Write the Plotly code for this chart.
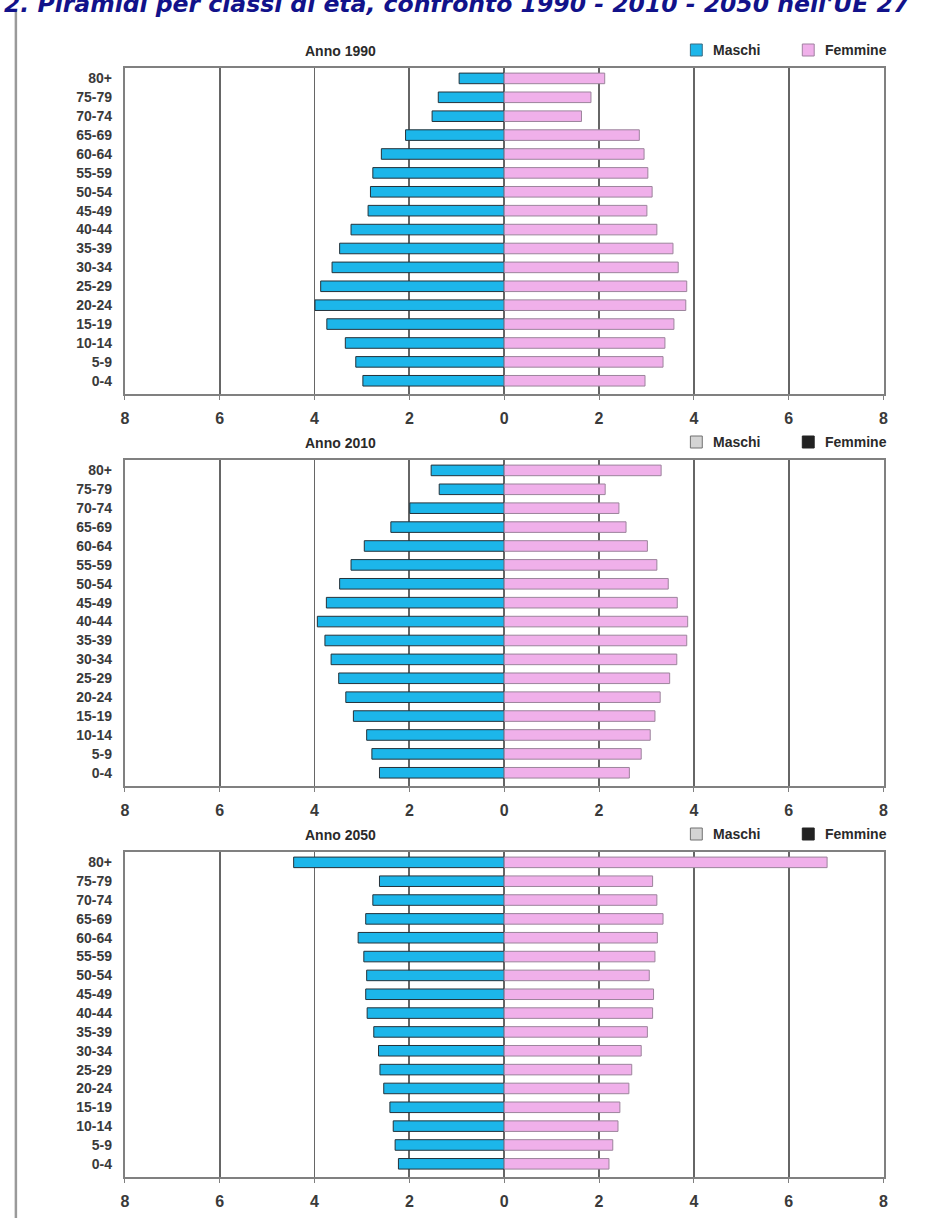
import plotly.graph_objects as go

W, H = 943, 1218

age_groups = ["0-4", "5-9", "10-14", "15-19", "20-24", "25-29", "30-34", "35-39",
              "40-44", "45-49", "50-54", "55-59", "60-64", "65-69", "70-74", "75-79", "80+"]

# values listed from 0-4 up to 80+
maschi_1990 = [2.98, 3.13, 3.35, 3.74, 3.99, 3.87, 3.63, 3.47, 3.23, 2.87, 2.82, 2.77, 2.59, 2.08, 1.52, 1.39, 0.95]
femmine_1990 = [2.97, 3.35, 3.39, 3.58, 3.83, 3.85, 3.67, 3.56, 3.22, 3.01, 3.12, 3.03, 2.95, 2.85, 1.63, 1.83, 2.12]

maschi_2010 = [2.63, 2.79, 2.90, 3.18, 3.34, 3.49, 3.65, 3.78, 3.94, 3.75, 3.47, 3.23, 2.95, 2.39, 1.99, 1.37, 1.54]
femmine_2010 = [2.64, 2.89, 3.08, 3.18, 3.29, 3.49, 3.64, 3.85, 3.87, 3.65, 3.46, 3.22, 3.02, 2.57, 2.42, 2.13, 3.31]

maschi_2050 = [2.23, 2.30, 2.34, 2.41, 2.54, 2.62, 2.65, 2.75, 2.89, 2.92, 2.90, 2.96, 3.08, 2.92, 2.77, 2.63, 4.44]
femmine_2050 = [2.21, 2.29, 2.40, 2.44, 2.63, 2.69, 2.89, 3.02, 3.13, 3.15, 3.06, 3.18, 3.23, 3.35, 3.22, 3.13, 6.81]

panel_titles = ["Anno 1990", "Anno 2010", "Anno 2050"]
x_tick_vals = [-8, -6, -4, -2, 0, 2, 4, 6, 8]
x_tick_text = ["8", "6", "4", "2", "0", "2", "4", "6", "8"]
legend_labels = ["Maschi", "Femmine"]
main_title = "2. Piramidi per classi di età, confronto 1990 - 2010 - 2050 nell'UE 27"

panels = [(maschi_1990, femmine_1990), (maschi_2010, femmine_2010), (maschi_2050, femmine_2050)]

# pixel layout of plot areas (top, bottom)
plot_left, plot_right = 122, 888
panel_px = [(68, 394), (460, 786), (852, 1177)]

MALE = "#1cb6ea"
FEMALE = "#f0b0ea"
GRID = "#666666"
FRAME = "#808080"
LABEL = "#3a3a3a"
FONT = "Liberation Sans, Arial, sans-serif"

fig = go.Figure()
layout = dict(
    width=W, height=H,
    margin=dict(l=0, r=0, t=0, b=0),
    paper_bgcolor="white", plot_bgcolor="white",
    showlegend=False,
    barmode="relative",
    bargap=0.44,
)

shapes = []
annotations = []


def py(p):
    return 1 - p / H


def px(p):
    return p / W


for i, ((m, f), (top, bot)) in enumerate(zip(panels, panel_px)):
    suffix = "" if i == 0 else str(i + 1)
    xa, ya = "x" + suffix, "y" + suffix
    fig.add_trace(go.Bar(
        y=age_groups, x=[-v for v in m], orientation="h", name=legend_labels[0],
        marker=dict(color=MALE, line=dict(color="#24323a", width=1)),
        xaxis=xa, yaxis=ya, hoverinfo="skip"))
    fig.add_trace(go.Bar(
        y=age_groups, x=f, orientation="h", name=legend_labels[1],
        marker=dict(color=FEMALE, line=dict(color="#9c849c", width=1)),
        xaxis=xa, yaxis=ya, hoverinfo="skip"))

    layout["xaxis" + suffix] = dict(
        domain=[px(plot_left), px(plot_right)], anchor=ya,
        range=[-8, 8], tickvals=x_tick_vals, ticktext=x_tick_text,
        showgrid=True, gridcolor=GRID, gridwidth=1.8,
        zeroline=True, zerolinecolor=GRID, zerolinewidth=1.8,
        showline=True, linecolor=FRAME, linewidth=2, mirror=True,
        ticks="outside", ticklen=4, tickcolor=FRAME,
        ticklabelstandoff=5,
        tickfont=dict(family=FONT, size=16, color=LABEL, weight="bold"),
        fixedrange=True,
    )
    layout["yaxis" + suffix] = dict(
        domain=[py(bot), py(top)], anchor=xa,
        type="category", range=[-0.7, 16.55],
        showgrid=False, zeroline=False,
        showline=True, linecolor=FRAME, linewidth=2, mirror=True,
        ticks="", ticklabelstandoff=8,
        tickfont=dict(family=FONT, size=14, color=LABEL, weight="bold"),
        fixedrange=True,
    )

    # panel title
    annotations.append(dict(
        text="<b>" + panel_titles[i] + "</b>", xref="paper", yref="paper",
        x=px(340), y=py(top - 17), xanchor="center", yanchor="middle",
        showarrow=False, font=dict(family=FONT, size=14, color="#2a2a2a")))

    # legend
    ly = top - 18
    if i == 0:
        sq_colors = [(MALE, "#3a6a80"), (FEMALE, "#a080a0")]
    else:
        sq_colors = [("#d4d4d4", "#707070"), ("#222222", "#222222")]
    for (x0, tx, lab, (fc, lc)) in [(693, 714, legend_labels[0], sq_colors[0]),
                                    (806, 827, legend_labels[1], sq_colors[1])]:
        shapes.append(dict(type="rect", xref="paper", yref="paper",
                           x0=px(x0), x1=px(x0 + 12), y0=py(ly + 6), y1=py(ly - 6),
                           fillcolor=fc, line=dict(color=lc, width=1)))
        annotations.append(dict(
            text="<b>" + lab + "</b>", xref="paper", yref="paper",
            x=px(tx), y=py(ly), xanchor="left", yanchor="middle",
            showarrow=False, font=dict(family=FONT, size=14, color="#2a2a2a")))

# left vertical rule
shapes.append(dict(type="line", xref="paper", yref="paper",
                   x0=px(12), x1=px(12), y0=0, y1=py(10),
                   line=dict(color="#9a9a9a", width=2.5)))

# main title (partly cut off at the top edge, as in the source)
annotations.append(dict(
    text="<b><i>" + main_title + "</i></b>",
    xref="paper", yref="paper", x=px(917), y=py(20), xanchor="right", yanchor="bottom",
    showarrow=False, font=dict(family="DejaVu Sans, Verdana, sans-serif", size=23.5, color="#12128a")))

layout["shapes"] = shapes
layout["annotations"] = annotations
fig.update_layout(**layout)

fig.write_html(
    "out.html",
    config={"displayModeBar": False, "staticPlot": True},
    post_script="document.documentElement.style.margin='0';document.body.style.margin='0';"
                "document.body.style.padding='0';document.documentElement.style.overflow='hidden';",
)
